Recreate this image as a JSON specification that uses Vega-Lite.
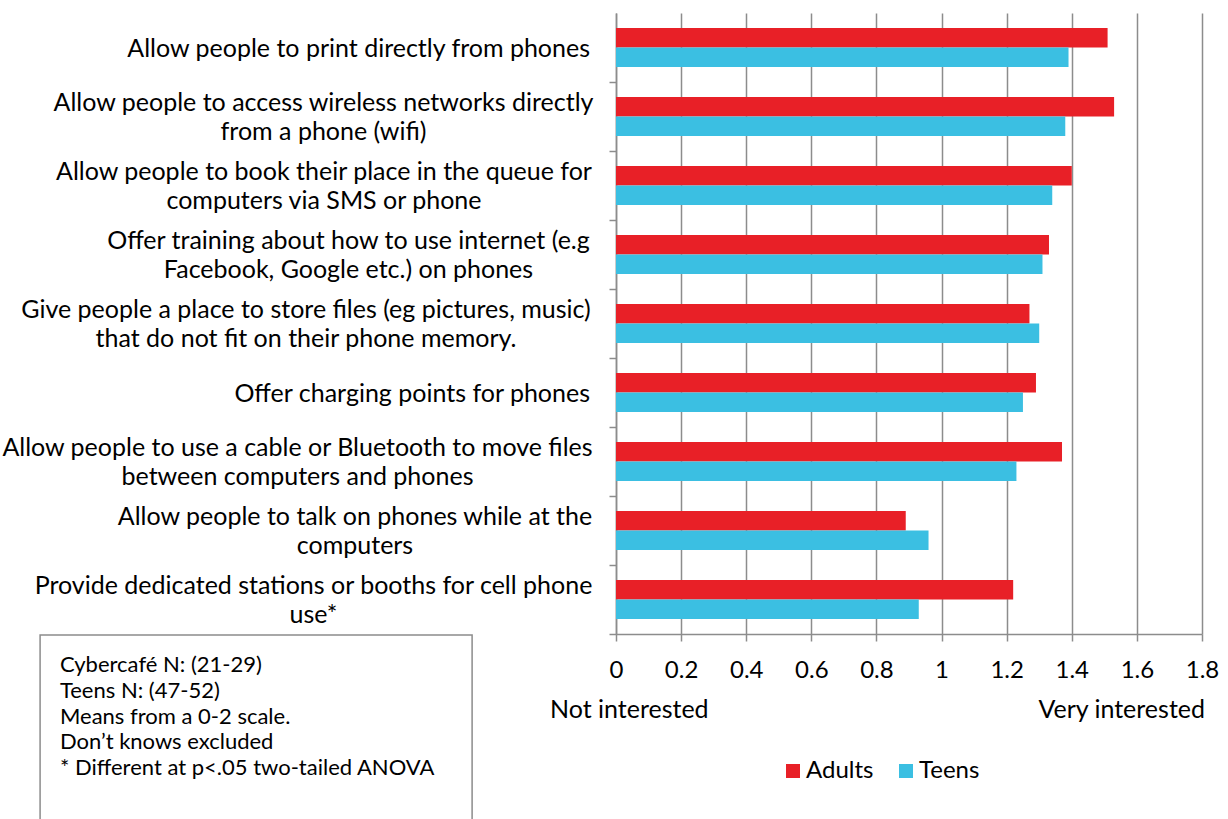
{
  "$schema": "https://vega.github.io/schema/vega-lite/v6.json",
  "width": 586,
  "height": 621,
  "autosize": {"type": "none"},
  "padding": {"left": 616, "top": 13, "right": 26, "bottom": 185},
  "background": "white",
  "config": {"view": {"stroke": null}, "font": "Lato", "text": {"font": "Lato"}},
  "datasets": {
    "survey": [
      {"item": "Allow people to print directly from phones", "group": "Adults", "mean": 1.51},
      {"item": "Allow people to print directly from phones", "group": "Teens", "mean": 1.39},
      {"item": "Allow people to access wireless networks directly|from a phone (wifi)", "group": "Adults", "mean": 1.53},
      {"item": "Allow people to access wireless networks directly|from a phone (wifi)", "group": "Teens", "mean": 1.38},
      {"item": "Allow people to book their place in the queue for|computers via SMS or phone", "group": "Adults", "mean": 1.40},
      {"item": "Allow people to book their place in the queue for|computers via SMS or phone", "group": "Teens", "mean": 1.34},
      {"item": "Offer training about how to use internet (e.g|Facebook, Google etc.) on phones", "group": "Adults", "mean": 1.33},
      {"item": "Offer training about how to use internet (e.g|Facebook, Google etc.) on phones", "group": "Teens", "mean": 1.31},
      {"item": "Give people a place to store files (eg pictures, music)|that do not fit on their phone memory.", "group": "Adults", "mean": 1.27},
      {"item": "Give people a place to store files (eg pictures, music)|that do not fit on their phone memory.", "group": "Teens", "mean": 1.30},
      {"item": "Offer charging points for phones", "group": "Adults", "mean": 1.29},
      {"item": "Offer charging points for phones", "group": "Teens", "mean": 1.25},
      {"item": "Allow people to use a cable or Bluetooth to move files|between computers and phones", "group": "Adults", "mean": 1.37},
      {"item": "Allow people to use a cable or Bluetooth to move files|between computers and phones", "group": "Teens", "mean": 1.23},
      {"item": "Allow people to talk on phones while at the|computers", "group": "Adults", "mean": 0.89},
      {"item": "Allow people to talk on phones while at the|computers", "group": "Teens", "mean": 0.96},
      {"item": "Provide dedicated stations or booths for cell phone|use*", "group": "Adults", "mean": 1.22},
      {"item": "Provide dedicated stations or booths for cell phone|use*", "group": "Teens", "mean": 0.93}
    ]
  },
  "layer": [
    {
      "data": {"name": "survey"},
      "mark": {"type": "bar"},
      "encoding": {
        "y": {
          "field": "item",
          "type": "nominal",
          "sort": null,
          "scale": {"paddingInner": 0.435, "paddingOuter": 0.2175},
          "axis": {
            "title": null,
            "labels": false,
            "domainColor": "#8c8c8c",
            "domainWidth": 1.5,
            "tickColor": "#8c8c8c",
            "tickWidth": 1.5,
            "tickSize": 7,
            "bandPosition": 1,
            "tickOffset": 15
          }
        },
        "yOffset": {"field": "group", "type": "nominal", "sort": ["Adults", "Teens"]},
        "x": {
          "field": "mean",
          "type": "quantitative",
          "scale": {"domain": [0, 1.8], "nice": false, "zero": true},
          "axis": {
            "title": null,
            "values": [0, 0.2, 0.4, 0.6, 0.8, 1, 1.2, 1.4, 1.6, 1.8],
            "format": "~g",
            "labelFlush": false,
            "labelOverlap": false,
            "grid": true,
            "gridColor": "#8c8c8c",
            "gridWidth": 1.5,
            "domainColor": "#8c8c8c",
            "domainWidth": 1.5,
            "tickColor": "#8c8c8c",
            "tickWidth": 1.5,
            "tickSize": 7,
            "labelFontSize": 24,
            "labelColor": "#000000",
            "labelPadding": 17
          }
        },
        "color": {
          "field": "group",
          "type": "nominal",
          "scale": {"domain": ["Adults", "Teens"], "range": ["#E82027", "#3BBFE2"]},
          "legend": {
            "title": null,
            "orient": "none",
            "direction": "horizontal",
            "legendX": 165,
            "legendY": 746,
            "padding": 0,
            "symbolType": "square",
            "symbolSize": 196,
            "symbolStrokeWidth": 0,
            "labelFontSize": 24,
            "labelColor": "#000000",
            "labelOffset": 1,
            "columnPadding": 20
          }
        }
      }
    },
    {
      "data": {"name": "survey"},
      "transform": [{"filter": "datum.group === 'Adults'"}],
      "mark": {
        "type": "text",
        "fontSize": 25,
        "lineHeight": 29,
        "color": "#000000",
        "baseline": "middle",
        "text": {"expr": "split(datum.item, '|')"},
        "align": {"expr": "indexof(datum.item, '|') >= 0 ? 'center' : 'right'"},
        "dy": {"expr": "indexof(datum.item, '|') >= 0 ? -13.5 : 1.5"},
        "dx": {"expr": "indexof(datum.item, 'wireless') >= 0 ? -292.5 : indexof(datum.item, 'queue') >= 0 ? -292 : indexof(datum.item, 'training') >= 0 ? -267.5 : indexof(datum.item, 'store files') >= 0 ? -310 : indexof(datum.item, 'Bluetooth') >= 0 ? -318.5 : indexof(datum.item, 'talk') >= 0 ? -261 : indexof(datum.item, 'booths') >= 0 ? -302.5 : -26"}
      },
      "encoding": {
        "x": {"datum": 0, "type": "quantitative"},
        "y": {"field": "item", "type": "nominal", "sort": null}
      }
    },
    {
      "data": {"values": [{"lo": -1.769, "hi": -0.442}]},
      "mark": {"type": "rect", "fill": null, "fillOpacity": 0, "stroke": "#8c8c8c", "strokeWidth": 1.5},
      "encoding": {
        "x": {"field": "lo", "type": "quantitative"},
        "x2": {"field": "hi"},
        "y": {"value": 622},
        "y2": {"value": 830}
      }
    },
    {
      "data": {"values": [{"pos": -1.708}]},
      "mark": {"type": "text", "align": "left", "baseline": "alphabetic", "fontSize": 22, "lineHeight": 25.8, "color": "#000000"},
      "encoding": {
        "x": {"field": "pos", "type": "quantitative"},
        "y": {"value": 659},
        "text": {"value": ["Cybercafé N: (21-29)", "Teens N: (47-52)", "Means from a 0-2 scale.", "Don’t knows excluded", "* Different at p<.05 two-tailed ANOVA"]}
      }
    },
    {
      "data": {"values": [{"pos": 0, "label": "Not interested"}]},
      "mark": {"type": "text", "align": "left", "baseline": "middle", "fontSize": 25, "dx": -66, "color": "#000000"},
      "encoding": {
        "x": {"field": "pos", "type": "quantitative"},
        "y": {"value": 697},
        "text": {"field": "label"}
      }
    },
    {
      "data": {"values": [{"pos": 1.8, "label": "Very interested"}]},
      "mark": {"type": "text", "align": "right", "baseline": "middle", "fontSize": 25, "dx": 3, "color": "#000000"},
      "encoding": {
        "x": {"field": "pos", "type": "quantitative"},
        "y": {"value": 697},
        "text": {"field": "label"}
      }
    }
  ]
}
